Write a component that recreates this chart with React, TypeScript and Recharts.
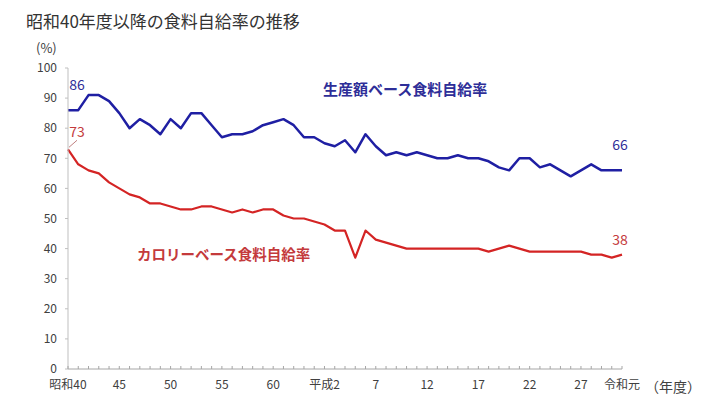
import { LineChart, Line, XAxis, YAxis, LabelList } from 'recharts';

const years = Array.from({ length: 55 }, (_, i) => 1965 + i);

// 生産額ベース (%)
const productionRate = [
  86, 86, 91, 91, 89, 85, 80, 83, 81, 78,
  83, 80, 85, 85, 81, 77, 78, 78, 79, 81,
  82, 83, 81, 77, 77, 75, 74, 76, 72, 78,
  74, 71, 72, 71, 72, 71, 70, 70, 71, 70,
  70, 69, 67, 66, 70, 70, 67, 68, 66, 64,
  66, 68, 66, 66, 66,
];

// カロリーベース (%)
const calorieRate = [
  73, 68, 66, 65, 62, 60, 58, 57, 55, 55,
  54, 53, 53, 54, 54, 53, 52, 53, 52, 53,
  53, 51, 50, 50, 49, 48, 46, 46, 37, 46,
  43, 42, 41, 40, 40, 40, 40, 40, 40, 40,
  40, 39, 40, 41, 40, 39, 39, 39, 39, 39,
  39, 38, 38, 37, 38,
];

const yTicks = [0, 10, 20, 30, 40, 50, 60, 70, 80, 90, 100];

const xLabels: Record<number, string> = {
  1965: '昭和40',
  1970: '45',
  1975: '50',
  1980: '55',
  1985: '60',
  1990: '平成2',
  1995: '7',
  2000: '12',
  2005: '17',
  2010: '22',
  2015: '27',
  2019: '令和元',
};

const data = years.map((year, i) => ({
  year,
  production: productionRate[i],
  calorie: calorieRate[i],
}));

const BLUE = '#1f1fa3';
const BLUE_TEXT = '#2e2e98';
const RED = '#d42424';
const RED_TEXT = '#c43a3c';
const FONT = '"Noto Sans CJK JP", "Noto Sans", sans-serif';

const YearTick = (props: any) => {
  const { x, y, payload } = props;
  const label = xLabels[payload.value];
  return (
    <g>
      <line x1={x} x2={x} y1={y - 3} y2={y} stroke="#a6a6a6" strokeWidth={1} />
      {label && (
        <text x={x} y={y + 20} textAnchor="middle" fontSize={12} fill="#404040" fontFamily={FONT}>
          {label}
        </text>
      )}
    </g>
  );
};

const endLabel = (color: string, first: 'above' | 'leader', lastDy: number) => (props: any) => {
  const { x, y, index, value } = props;
  if (index === 0) {
    if (first === 'leader') {
      return (
        <g>
          <line x1={x + 1} y1={y - 2} x2={x + 9} y2={y - 9} stroke="#c08080" strokeWidth={1} />
          <text x={x + 9} y={y - 12} textAnchor="middle" fontSize={14} fill={color} fontFamily={FONT}>
            {value}
          </text>
        </g>
      );
    }
    return (
      <text x={x + 9} y={y - 20} textAnchor="middle" fontSize={14} fill={color} fontFamily={FONT}>
        {value}
      </text>
    );
  }
  if (index === years.length - 1) {
    return (
      <text x={x - 2} y={y + lastDy} textAnchor="middle" fontSize={14} fill={color} fontFamily={FONT}>
        {value}
      </text>
    );
  }
  return null;
};

export default function App() {
  return (
    <div style={{ position: 'absolute', left: 0, top: 0, width: 718, height: 403, background: '#fff', fontFamily: FONT }}>
      <div style={{ position: 'absolute', left: 26, top: 8, fontSize: 17, color: '#333' }}>
        昭和40年度以降の食料自給率の推移
      </div>
      <div style={{ position: 'absolute', left: 36, top: 38, fontSize: 13, color: '#404040' }}>(%)</div>
      <div style={{ position: 'absolute', left: 645, top: 376, fontSize: 14, color: '#404040' }}>（年度）</div>
      <div style={{ position: 'absolute', left: 323, top: 78, fontSize: 15, color: BLUE_TEXT, fontWeight: 'bold' }}>
        生産額ベース食料自給率
      </div>
      <div style={{ position: 'absolute', left: 137, top: 243, fontSize: 14.5, color: RED_TEXT, fontWeight: 'bold' }}>
        カロリーベース食料自給率
      </div>
      <LineChart width={718} height={403} data={data} margin={{ top: 68, right: 96, bottom: 4, left: 8 }}>
        <XAxis
          dataKey="year"
          type="number"
          domain={[1965, 2019]}
          ticks={years}
          interval={0}
          height={30}
          tickSize={0}
          tickMargin={0}
          tick={<YearTick />}
          axisLine={{ stroke: '#a6a6a6' }}
        />
        <YAxis
          domain={[0, 100]}
          ticks={yTicks}
          interval={0}
          width={60}
          tickSize={3}
          tickMargin={8}
          tickLine={{ stroke: '#bfbfbf' }}
          axisLine={{ stroke: '#bfbfbf' }}
          tick={{ fontSize: 12, fill: '#404040', fontFamily: FONT }}
        />
        <Line
          dataKey="production"
          stroke={BLUE}
          strokeWidth={2.5}
          dot={false}
          isAnimationActive={false}
          strokeLinejoin="round"
        >
          <LabelList dataKey="production" content={endLabel(BLUE_TEXT, 'above', -20)} />
        </Line>
        <Line
          dataKey="calorie"
          stroke={RED}
          strokeWidth={2.2}
          dot={false}
          isAnimationActive={false}
          strokeLinejoin="round"
        >
          <LabelList dataKey="calorie" content={endLabel(RED_TEXT, 'leader', -10)} />
        </Line>
      </LineChart>
    </div>
  );
}
